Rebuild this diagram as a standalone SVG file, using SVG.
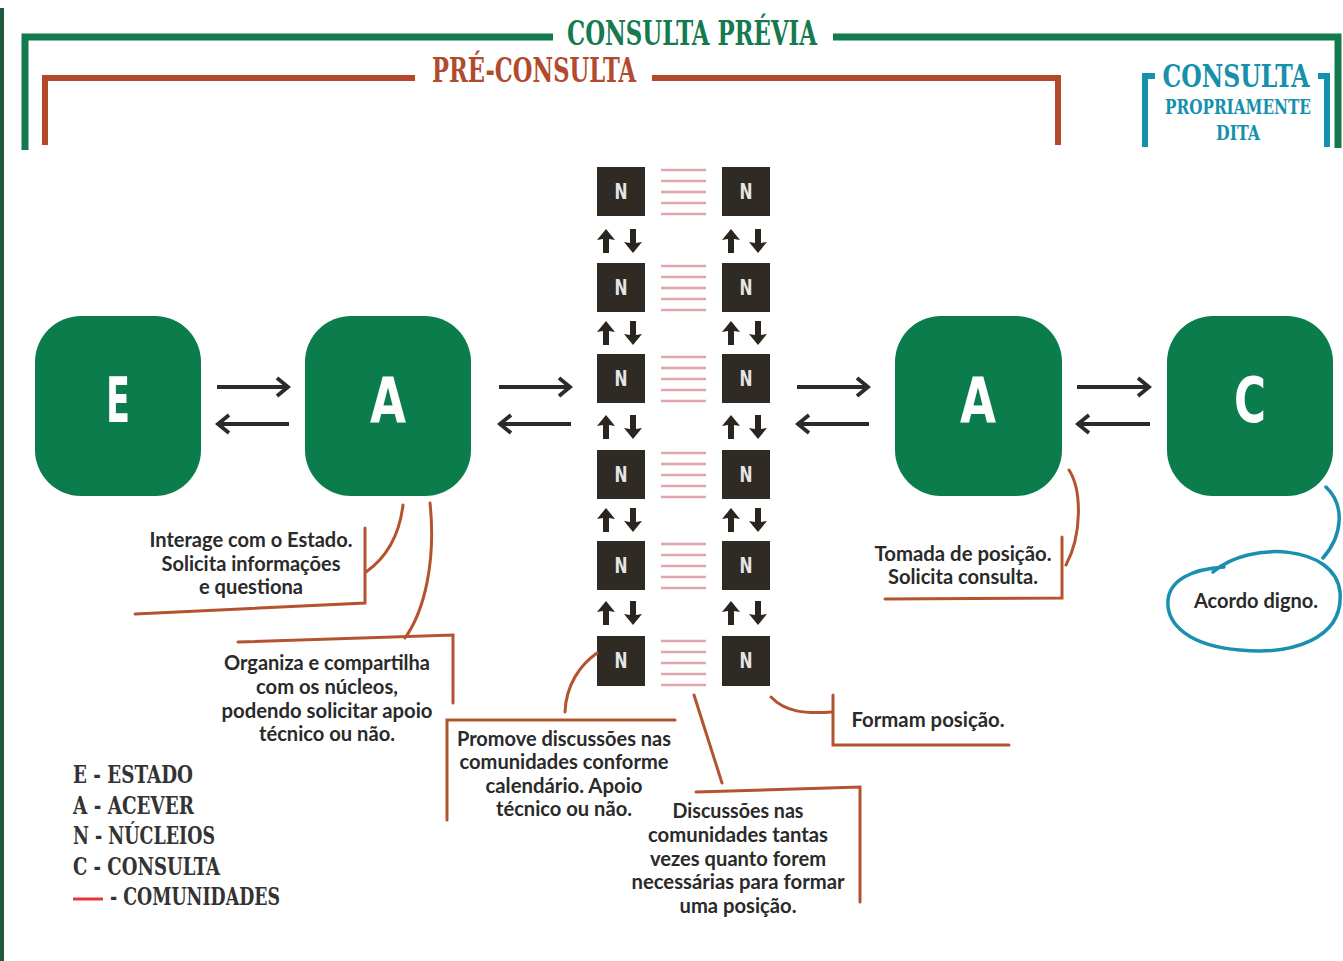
<svg xmlns="http://www.w3.org/2000/svg" width="1343" height="961" viewBox="0 0 1343 961">
<style>
.node{fill:#0b7d4c}
.nl{font-family:"DejaVu Sans Condensed","DejaVu Sans",sans-serif;font-weight:bold;font-size:62px;fill:#fff;text-anchor:middle}
.nb{fill:#2f2a24}
.nt{font-family:"DejaVu Sans Condensed","DejaVu Sans",sans-serif;font-weight:bold;font-size:21px;fill:#e6e6e6;text-anchor:middle}
.pk{stroke:#dfa7ad;stroke-width:2.5}
.arr{stroke:#2b2b2b;stroke-width:4;fill:none}
.co{stroke:#b5532f;stroke-width:3;fill:none;stroke-linecap:round}
.tl{stroke:#1a8fb0;stroke-width:3.5;fill:none;stroke-linecap:round}
.tx{font-family:Lato,"Open Sans",sans-serif;font-weight:bold;font-size:20px;fill:#2a2a2a;text-anchor:middle}
.sl{font-family:"DejaVu Serif Condensed","DejaVu Serif",serif;font-weight:bold}
.lg{font-family:"DejaVu Serif Condensed","DejaVu Serif",serif;font-weight:bold;font-size:25px;fill:#333}
</style>
<defs>
<marker id="ah" viewBox="0 0 16 22" refX="13" refY="11" markerWidth="16" markerHeight="22" markerUnits="userSpaceOnUse" orient="auto">
<path d="M2,2 L13,11 L2,20" fill="none" stroke="#2b2b2b" stroke-width="3.8"/>
</marker>
<g id="ud">
<polygon points="8,0 17,11 11,10 11,24 5,24 5,10 -1,11" fill="#2b2520"/>
<polygon points="35,24 44,13 38,14 38,0 32,0 32,14 26,13" fill="#2b2520"/>
</g>
<g id="pl">
<line class="pk" x1="661" y1="0" x2="706" y2="0"/>
<line class="pk" x1="661" y1="11" x2="706" y2="11"/>
<line class="pk" x1="661" y1="22" x2="706" y2="22"/>
<line class="pk" x1="661" y1="33" x2="706" y2="33"/>
<line class="pk" x1="661" y1="44" x2="706" y2="44"/>
</g>
</defs>
<rect x="0" y="0" width="1343" height="961" fill="#fff"/>
<rect x="0" y="8" width="4" height="953" fill="#1e5a3c"/>

<g id="consulta-previa">
<path d="M25,150 V37 H553" stroke="#137a4e" stroke-width="7" fill="none"/>
<path d="M833,37 H1338 V148" stroke="#137a4e" stroke-width="7" fill="none"/>
<text class="sl" x="692" y="45" font-size="34" fill="#157a4f" text-anchor="middle" textLength="250" lengthAdjust="spacingAndGlyphs">CONSULTA PRÉVIA</text>
</g>
<g id="pre-consulta">
<path d="M45,145 V78 H415" stroke="#b2492b" stroke-width="6" fill="none"/>
<path d="M652,78 H1058 V145" stroke="#b2492b" stroke-width="6" fill="none"/>
<text class="sl" x="534" y="82" font-size="33" fill="#b24b2d" text-anchor="middle" textLength="204" lengthAdjust="spacingAndGlyphs">PRÉ-CONSULTA</text>
</g>
<g id="consulta-propriamente">
<path d="M1155,76 H1145 V147" stroke="#1590ad" stroke-width="6" fill="none"/>
<path d="M1318,76 H1327 V147" stroke="#1590ad" stroke-width="6" fill="none"/>
<text class="sl" x="1236" y="87" font-size="31" fill="#1590ad" text-anchor="middle" textLength="147" lengthAdjust="spacingAndGlyphs">CONSULTA</text>
<text class="sl" x="1238" y="114" font-size="20" fill="#1590ad" text-anchor="middle" textLength="146" lengthAdjust="spacingAndGlyphs">PROPRIAMENTE</text>
<text class="sl" x="1238" y="140" font-size="20" fill="#1590ad" text-anchor="middle" textLength="44" lengthAdjust="spacingAndGlyphs">DITA</text>
</g>

<g id="node-E"><rect class="node" x="35" y="316" width="166" height="180" rx="46"/><text class="nl" x="118" y="422" textLength="24" lengthAdjust="spacingAndGlyphs">E</text></g>
<g id="node-A1"><rect class="node" x="305" y="316" width="166" height="180" rx="46"/><text class="nl" x="388" y="422" textLength="36" lengthAdjust="spacingAndGlyphs">A</text></g>
<g id="node-A2"><rect class="node" x="895" y="316" width="167" height="180" rx="46"/><text class="nl" x="978" y="422" textLength="36" lengthAdjust="spacingAndGlyphs">A</text></g>
<g id="node-C"><rect class="node" x="1167" y="316" width="166" height="180" rx="46"/><text class="nl" x="1250" y="422" textLength="32" lengthAdjust="spacingAndGlyphs">C</text></g>

<g id="nucleos">
<g id="row1"><rect class="nb" x="597" y="167" width="48" height="49"/><rect class="nb" x="722" y="167" width="48" height="49"/><text class="nt" x="621" y="199" textLength="13" lengthAdjust="spacingAndGlyphs">N</text><text class="nt" x="746" y="199" textLength="13" lengthAdjust="spacingAndGlyphs">N</text><use href="#pl" y="170"/></g>
<g id="row2"><rect class="nb" x="597" y="263" width="48" height="49"/><rect class="nb" x="722" y="263" width="48" height="49"/><text class="nt" x="621" y="295" textLength="13" lengthAdjust="spacingAndGlyphs">N</text><text class="nt" x="746" y="295" textLength="13" lengthAdjust="spacingAndGlyphs">N</text><use href="#pl" y="266"/></g>
<g id="row3"><rect class="nb" x="597" y="354" width="48" height="49"/><rect class="nb" x="722" y="354" width="48" height="49"/><text class="nt" x="621" y="386" textLength="13" lengthAdjust="spacingAndGlyphs">N</text><text class="nt" x="746" y="386" textLength="13" lengthAdjust="spacingAndGlyphs">N</text><use href="#pl" y="357"/></g>
<g id="row4"><rect class="nb" x="597" y="450" width="48" height="49"/><rect class="nb" x="722" y="450" width="48" height="49"/><text class="nt" x="621" y="482" textLength="13" lengthAdjust="spacingAndGlyphs">N</text><text class="nt" x="746" y="482" textLength="13" lengthAdjust="spacingAndGlyphs">N</text><use href="#pl" y="453"/></g>
<g id="row5"><rect class="nb" x="597" y="541" width="48" height="49"/><rect class="nb" x="722" y="541" width="48" height="49"/><text class="nt" x="621" y="573" textLength="13" lengthAdjust="spacingAndGlyphs">N</text><text class="nt" x="746" y="573" textLength="13" lengthAdjust="spacingAndGlyphs">N</text><use href="#pl" y="544"/></g>
<g id="row6"><rect class="nb" x="597" y="636" width="48" height="50"/><rect class="nb" x="722" y="636" width="48" height="50"/><text class="nt" x="621" y="668" textLength="13" lengthAdjust="spacingAndGlyphs">N</text><text class="nt" x="746" y="668" textLength="13" lengthAdjust="spacingAndGlyphs">N</text><use href="#pl" y="641"/></g>
</g>

<g id="connectors">
<use href="#ud" x="598" y="229"/><use href="#ud" x="723" y="229"/>
<use href="#ud" x="598" y="321"/><use href="#ud" x="723" y="321"/>
<use href="#ud" x="598" y="415"/><use href="#ud" x="723" y="415"/>
<use href="#ud" x="598" y="508"/><use href="#ud" x="723" y="508"/>
<use href="#ud" x="598" y="601"/><use href="#ud" x="723" y="601"/>
<path class="arr" d="M217,387 H288" marker-end="url(#ah)"/>
<path class="arr" d="M289,424 H218" marker-end="url(#ah)"/>
<path class="arr" d="M499,387 H570" marker-end="url(#ah)"/>
<path class="arr" d="M571,424 H500" marker-end="url(#ah)"/>
<path class="arr" d="M797,387 H868" marker-end="url(#ah)"/>
<path class="arr" d="M869,424 H798" marker-end="url(#ah)"/>
<path class="arr" d="M1077,387 H1149" marker-end="url(#ah)"/>
<path class="arr" d="M1150,424 H1078" marker-end="url(#ah)"/>
<path class="co" d="M403,505 C400,530 390,555 366,572"/>
<path class="co" d="M365,528 V603 L135,614"/>
<path class="co" d="M430,503 C436,560 425,610 405,638"/>
<path class="co" d="M238,642 L453,635 V703"/>
<path class="co" d="M597,653 C580,665 566,685 565,712"/>
<path class="co" d="M447,820 V720 H675"/>
<path class="co" d="M694,695 L722,783"/>
<path class="co" d="M696,792 L860,787 V902"/>
<path class="co" d="M771,697 C785,712 805,714 832,712"/>
<path class="co" d="M833,695 V745 L1009,745"/>
<path class="co" d="M1069,470 C1082,490 1082,535 1066,565"/>
<path class="co" d="M1062,537 V598 L885,599"/>
<path class="tl" d="M1326,487 C1345,505 1343,535 1323,558"/>
</g>

<g id="callout-interage">
<text class="tx" x="251" y="547" textLength="203" lengthAdjust="spacingAndGlyphs">Interage com o Estado.</text>
<text class="tx" x="251" y="571" textLength="179" lengthAdjust="spacingAndGlyphs">Solicita informações</text>
<text class="tx" x="251" y="594" textLength="104" lengthAdjust="spacingAndGlyphs">e questiona</text>
</g>
<g id="callout-organiza">
<text class="tx" x="327" y="670" textLength="206" lengthAdjust="spacingAndGlyphs">Organiza e compartilha</text>
<text class="tx" x="327" y="694" textLength="142" lengthAdjust="spacingAndGlyphs">com os núcleos,</text>
<text class="tx" x="327" y="718" textLength="211" lengthAdjust="spacingAndGlyphs">podendo solicitar apoio</text>
<text class="tx" x="327" y="741" textLength="136" lengthAdjust="spacingAndGlyphs">técnico ou não.</text>
</g>
<g id="callout-promove">
<text class="tx" x="564" y="746" textLength="214" lengthAdjust="spacingAndGlyphs">Promove discussões nas</text>
<text class="tx" x="564" y="769" textLength="209" lengthAdjust="spacingAndGlyphs">comunidades conforme</text>
<text class="tx" x="564" y="793" textLength="157" lengthAdjust="spacingAndGlyphs">calendário. Apoio</text>
<text class="tx" x="564" y="816" textLength="136" lengthAdjust="spacingAndGlyphs">técnico ou não.</text>
</g>
<g id="callout-discussoes">
<text class="tx" x="738" y="818" textLength="131" lengthAdjust="spacingAndGlyphs">Discussões nas</text>
<text class="tx" x="738" y="842" textLength="180" lengthAdjust="spacingAndGlyphs">comunidades tantas</text>
<text class="tx" x="738" y="866" textLength="176" lengthAdjust="spacingAndGlyphs">vezes quanto forem</text>
<text class="tx" x="738" y="889" textLength="213" lengthAdjust="spacingAndGlyphs">necessárias para formar</text>
<text class="tx" x="738" y="913" textLength="117" lengthAdjust="spacingAndGlyphs">uma posição.</text>
</g>
<g id="callout-formam">
<text class="tx" x="928" y="727" textLength="153" lengthAdjust="spacingAndGlyphs">Formam posição.</text>
</g>
<g id="callout-tomada">
<text class="tx" x="963" y="561" textLength="177" lengthAdjust="spacingAndGlyphs">Tomada de posição.</text>
<text class="tx" x="963" y="584" textLength="150" lengthAdjust="spacingAndGlyphs">Solicita consulta.</text>
</g>
<g id="callout-acordo">
<path class="tl" d="M1213,572 C1250,540 1335,545 1340,592 C1344,640 1290,655 1240,650 C1190,646 1166,625 1168,600 C1170,580 1192,569 1224,567"/>
<text class="tx" x="1256" y="608" textLength="124" lengthAdjust="spacingAndGlyphs">Acordo digno.</text>
</g>

<g id="legend">
<text class="lg" x="73" y="783" textLength="120" lengthAdjust="spacingAndGlyphs">E - ESTADO</text>
<text class="lg" x="73" y="814" textLength="121" lengthAdjust="spacingAndGlyphs">A - ACEVER</text>
<text class="lg" x="73" y="844" textLength="142" lengthAdjust="spacingAndGlyphs">N - NÚCLEIOS</text>
<text class="lg" x="73" y="875" textLength="147" lengthAdjust="spacingAndGlyphs">C - CONSULTA</text>
<line x1="73" y1="899" x2="103" y2="899" stroke="#e8323a" stroke-width="3"/>
<text class="lg" x="110" y="905" textLength="170" lengthAdjust="spacingAndGlyphs">- COMUNIDADES</text>
</g>
</svg>
